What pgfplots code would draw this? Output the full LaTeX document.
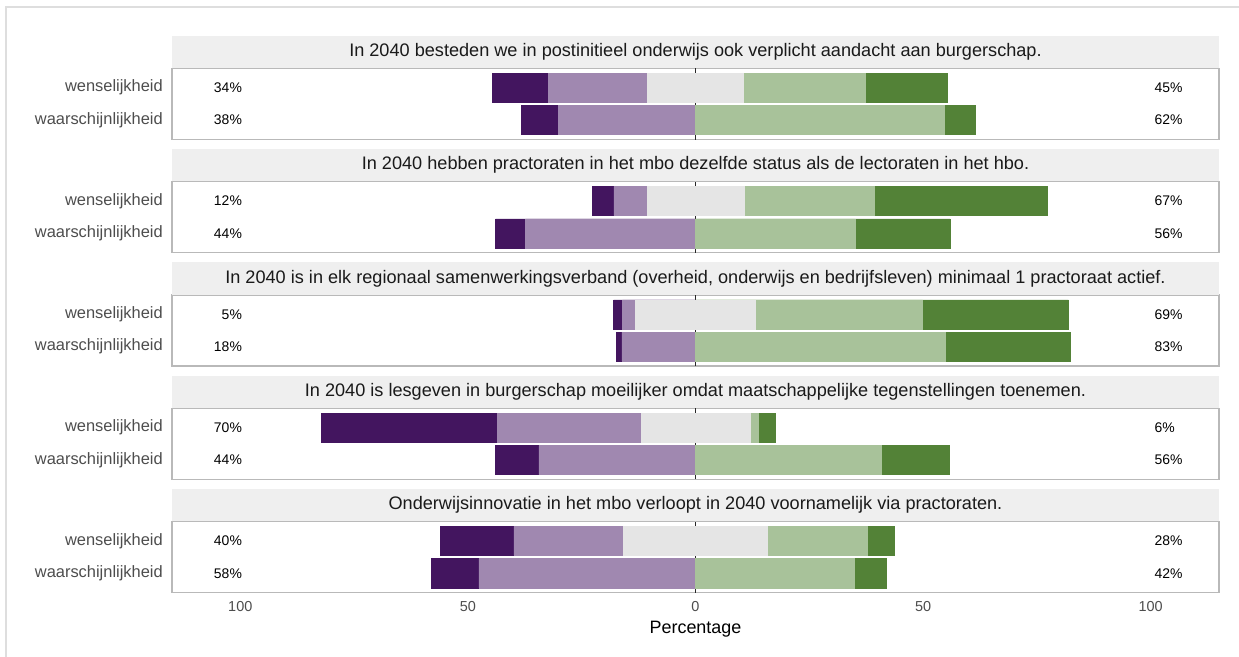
\documentclass[border=0pt]{standalone}
\usepackage{fontspec}
\setmainfont{Liberation Sans}
\usepackage{pgfplots}
\usepackage{pgfplotstable}
\pgfplotsset{compat=1.18}

\definecolor{cSD}{RGB}{67,21,95}
\definecolor{cD}{RGB}{160,136,176}
\definecolor{cN}{RGB}{229,229,229}
\definecolor{cA}{RGB}{168,194,154}
\definecolor{cSA}{RGB}{83,130,55}
\definecolor{stripfill}{RGB}{239,239,239}
\definecolor{striptext}{RGB}{26,26,26}
\definecolor{panelborder}{RGB}{185,185,185}
\definecolor{tickgray}{RGB}{77,77,77}
\definecolor{framegray}{RGB}{222,222,222}
\definecolor{zeroline}{RGB}{40,40,40}

% y: 2 = wenselijkheid, 1 = waarschijnlijkheid
% segment boundaries read from the chart:
% lsd = outer end of strongly-disagree, ld = outer end of disagree, ln = left end of neutral,
% rn = right end of neutral, ra = outer end of agree, rsa = outer end of strongly-agree
\pgfplotstableread{
y lsd ld ln rn ra rsa
2 -44.6 -32.3 -10.5 10.5 37.2 55.2
1 -38.3 -30.2 0 0 54.6 61.5
}\tA
\pgfplotstableread{
y lsd ld ln rn ra rsa
2 -22.65 -17.95 -10.65 10.65 39.35 77.25
1 -43.9 -37.3 0 0 35.1 55.9
}\tB
\pgfplotstableread{
y lsd ld ln rn ra rsa
2 -18.0 -16.0 -13.2 13.2 49.9 81.9
1 -17.4 -16.2 0 0 54.9 82.3
}\tC
\pgfplotstableread{
y lsd ld ln rn ra rsa
2 -82.25 -43.55 -11.95 11.95 13.85 17.45
1 -43.9 -34.4 0 0 40.8 55.8
}\tD
\pgfplotstableread{
y lsd ld ln rn ra rsa
2 -56.0 -39.9 -15.8 15.8 37.8 43.7
1 -58.0 -47.6 0 0 34.8 41.8
}\tE

\newcommand{\fStrip}{\fontsize{18.2}{21}\selectfont}
\newcommand{\fTick}{\fontsize{16.5}{19}\selectfont}
\newcommand{\fPct}{\fontsize{14}{16}\selectfont}
\newcommand{\fX}{\fontsize{14.5}{17}\selectfont}
\newcommand{\fXlab}{\fontsize{18}{21}\selectfont}

\pgfplotsset{
  panel/.style={
    set layers,
    width=1047bp, height=71.2bp, scale only axis,
    xmin=-115, xmax=115, ymin=0.4, ymax=2.6,
    xbar, bar width=0.9, bar shift=0pt,
    unbounded coords=discard,
    ytick={1,2}, yticklabels={waarschijnlijkheid, wenselijkheid},
    yticklabel style={font=\fTick, text=tickgray, inner sep=0pt, xshift=-9bp},
    xtick={-100,-50,0,50,100},
    xticklabels={},
    major tick length=0pt,
    axis line style={draw=panelborder, line width=1.3bp},
    every axis title shift=0pt,
    title style={at={(0.5,1)}, anchor=south, yshift=0pt,
      fill=stripfill, minimum width=1047bp, minimum height=32.3bp,
      inner sep=0pt, font=\fStrip, text=striptext},
    anchor=north west,
  },
  seg/.style={draw=#1, fill=#1, line width=0.5bp, x filter/.expression={x==0 ? nan : x}},
  bottompanel/.style={
    xticklabels={100,50,0,50,100},
    xticklabel style={font=\fX, text=tickgray, inner sep=0pt, yshift=-9bp},
    xlabel={Percentage},
    xlabel style={at={(axis description cs:0.5,0)}, anchor=north, yshift=-28bp,
      inner sep=0pt, font=\fXlab, text=black},
  }
}

\newcommand{\bars}[1]{%
  \draw[on layer=axis background, zeroline, line width=1.3bp] (axis cs:0,0.4) -- (axis cs:0,2.6);
  \addplot[seg=cSD] table[x=lsd, y=y] {#1};
  \addplot[seg=cD] table[x=ld, y=y] {#1};
  \addplot[seg=cSA] table[x=rsa, y=y] {#1};
  \addplot[seg=cA] table[x=ra, y=y] {#1};
  \addplot[seg=cN] table[x=ln, y=y] {#1};
  \addplot[seg=cN] table[x=rn, y=y] {#1};
}
\newcommand{\pct}[4]{%
  \node[font=\fPct, anchor=east, inner sep=0pt] at (axis cs:-99.6,2) {#1};
  \node[font=\fPct, anchor=east, inner sep=0pt] at (axis cs:-99.6,1) {#2};
  \node[font=\fPct, anchor=west, inner sep=0pt] at (axis cs:100.8,2) {#3};
  \node[font=\fPct, anchor=west, inner sep=0pt] at (axis cs:100.8,1) {#4};
}

\begin{document}
\begin{tikzpicture}
\draw[framegray, line width=2bp] (6bp,-657bp) -- (6bp,-7bp) -- (1239bp,-7bp);

\begin{axis}[panel, at={(172bp,-68.3bp)},
  title={In 2040 besteden we in postinitieel onderwijs ook verplicht aandacht aan burgerschap.}]
\bars{\tA}
\pct{34\%}{38\%}{45\%}{62\%}
\end{axis}

\begin{axis}[panel, at={(172bp,-181.6bp)},
  title={In 2040 hebben practoraten in het mbo dezelfde status als de lectoraten in het hbo.}]
\bars{\tB}
\pct{12\%}{44\%}{67\%}{56\%}
\end{axis}

\begin{axis}[panel, at={(172bp,-294.9bp)},
  title={In 2040 is in elk regionaal samenwerkingsverband (overheid, onderwijs en bedrijfsleven) minimaal 1 practoraat actief.}]
\bars{\tC}
\pct{5\%}{18\%}{69\%}{83\%}
\end{axis}

\begin{axis}[panel, at={(172bp,-408.2bp)},
  title={In 2040 is lesgeven in burgerschap moeilijker omdat maatschappelijke tegenstellingen toenemen.}]
\bars{\tD}
\pct{70\%}{44\%}{6\%}{56\%}
\end{axis}

\begin{axis}[panel, bottompanel, at={(172bp,-521.5bp)},
  title={Onderwijsinnovatie in het mbo verloopt in 2040 voornamelijk via practoraten.}]
\bars{\tE}
\pct{40\%}{58\%}{28\%}{42\%}
\end{axis}

\pgfresetboundingbox
\useasboundingbox (0,0) rectangle (1239bp,-657bp);
\end{tikzpicture}
\end{document}
